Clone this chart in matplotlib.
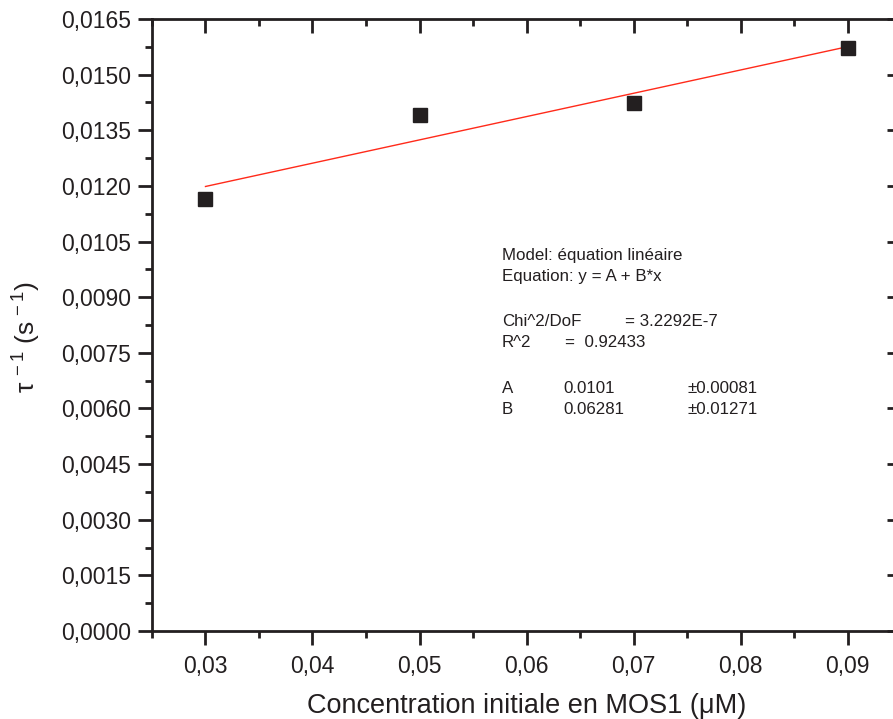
import matplotlib
matplotlib.use('Agg')
import matplotlib.pyplot as plt
from matplotlib.ticker import MultipleLocator, FuncFormatter

plt.rcParams['font.family'] = ['Liberation Sans', 'DejaVu Sans']
plt.rcParams['mathtext.fontset'] = 'custom'
plt.rcParams['mathtext.rm'] = 'Liberation Sans'
plt.rcParams['mathtext.it'] = 'Liberation Sans'

# data
conc = [0.03, 0.05, 0.07, 0.09]
inv_tau = [0.011647, 0.013912, 0.014235, 0.015718]
fit_a = 0.0101
fit_b = 0.06281
fit_x = [0.03, 0.09]

ink = '#231f20'

fig = plt.figure(figsize=(8.93, 7.19), dpi=100)
ax = fig.add_axes([0.1702, 0.1224, 0.8388, 0.8512])

ax.plot(fit_x, [fit_a + fit_b * x for x in fit_x], color='#ff2a1a', lw=1.0, zorder=2)
ax.plot(conc, inv_tau, 's', color=ink, ms=9.5, zorder=3)

ax.set_xlim(0.025, 0.095)
ax.set_ylim(0, 0.0165)
ax.xaxis.set_major_locator(MultipleLocator(0.01))
ax.xaxis.set_minor_locator(MultipleLocator(0.005))
ax.yaxis.set_major_locator(MultipleLocator(0.0015))
ax.yaxis.set_minor_locator(MultipleLocator(0.00075))
ax.xaxis.set_major_formatter(FuncFormatter(lambda v, p: ('%.2f' % v).replace('.', ',')))
ax.yaxis.set_major_formatter(FuncFormatter(lambda v, p: ('%.4f' % v).replace('.', ',')))

for s in ax.spines.values():
    s.set_linewidth(2)
    s.set_color(ink)

ax.tick_params(which='both', width=2, color=ink, labelsize=16.5, labelcolor=ink)
ax.tick_params(axis='x', which='both', top=True, pad=7)
ax.tick_params(axis='y', which='both', right=True, pad=5)
ax.tick_params(which='major', length=10)
ax.tick_params(which='minor', length=5)
# ticks on the top and right sides point inward
for t in ax.xaxis.get_major_ticks() + ax.xaxis.get_minor_ticks():
    t.tick2line.set_marker(3)
for t in ax.yaxis.get_major_ticks() + ax.yaxis.get_minor_ticks():
    t.tick2line.set_marker(0)

ax.set_xlabel('Concentration initiale en MOS1 (μM)', fontsize=19.5, color=ink)
ax.xaxis.set_label_coords(0.5, -0.101)
ax.set_ylabel(r'$\tau^{\,-1}$ (s$^{\,-1}$)', fontsize=19, color=ink)
ax.yaxis.set_label_coords(-0.1455, 0.48)

# fit report, one row at a time: (y pixel, [(x pixel, text), ...])
fs = 12.2
rows = [
    (256, [(502, 'Model: équation linéaire')]),
    (276, [(502, 'Equation: y = A + B*x')]),
    (322, [(502, 'Chi^2/DoF'), (625, '= 3.2292E-7')]),
    (342, [(502, 'R^2'), (565, '=  0.92433')]),
    (389, [(502, 'A'), (563, '0.0101'), (687, '±0.00081')]),
    (409, [(502, 'B'), (563, '0.06281'), (687, '±0.01271')]),
]
for ypix, cells in rows:
    for xpix, txt in cells:
        fig.text(xpix / 893, 1 - ypix / 719, txt, fontsize=fs, color=ink, va='center')

fig.savefig('out.png', dpi=100)
